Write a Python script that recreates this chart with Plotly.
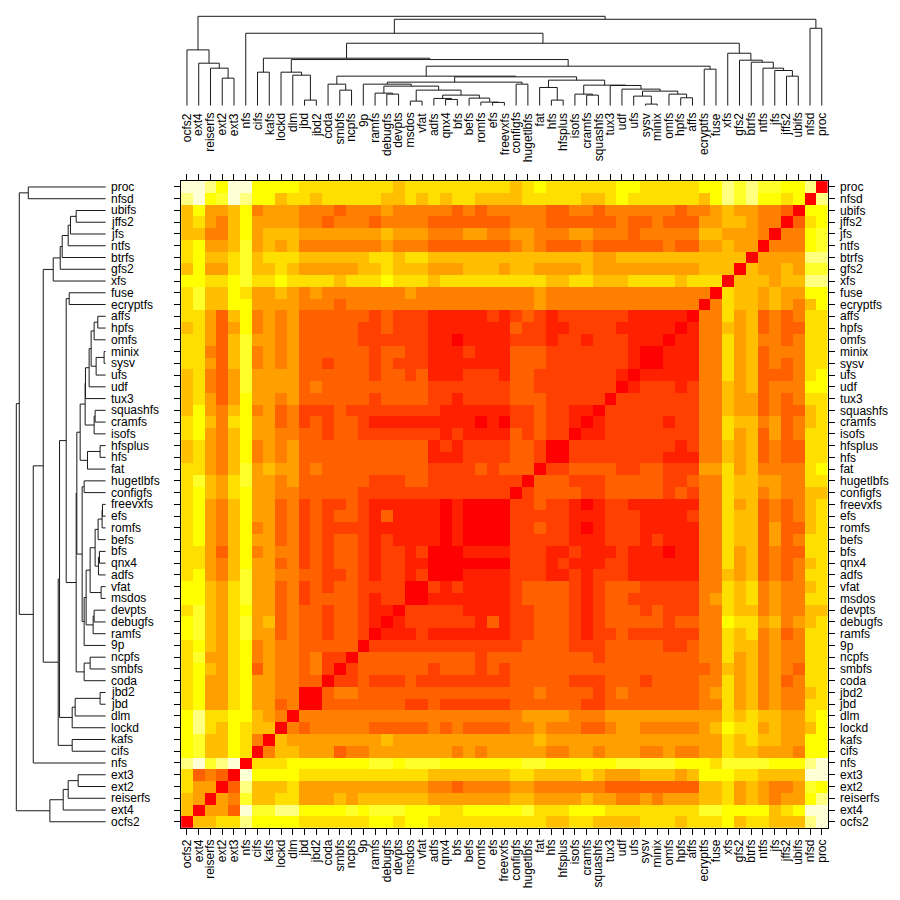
import plotly.graph_objects as go

# Filesystems, left to right along the bottom axis (bottom to top on the side axes)
labels = ["ocfs2","ext4","reiserfs","ext2","ext3","nfs","cifs","kafs","lockd","dlm","jbd","jbd2","coda",
          "smbfs","ncpfs","9p","ramfs","debugfs","devpts","msdos","vfat","adfs","qnx4","bfs","befs","romfs",
          "efs","freevxfs","configfs","hugetlbfs","fat","hfs","hfsplus","isofs","cramfs","squashfs","tux3",
          "udf","ufs","sysv","minix","omfs","hpfs","affs","ecryptfs","fuse","xfs","gfs2","btrfs","ntfs",
          "jfs","jffs2","ubifs","nfsd","proc"]

# Colour levels (0 = red ... 11 = palest), base-12 digits; lower-left triangle read row by row, proc at the top
level_rows = [
 "bba8bb8888 7777777767 7777777767 8777777887 777788a9a9 988a",
 "ab89ba8867 7677777667 6767766667 7777667877 777768a9a8 878",
 "6855684555 4443444544 4443434444 4334434444 4434456554 43",
 "6754685555 4434443444 4333333344 4333333433 4333556654 4",
 "6644685666 5555555655 5444554455 4445544434 4444665554",
 "7855695656 4444444544 4333333345 4333433333 343355655",
 "7866796777 6666667767 7666666666 6666655666 66666666",
 "6855796676 5555566766 6555666566 5555655555 5555666",
 "8877897787 7776777877 7677777777 7667766677 776777",
 "7966875565 4544444445 4444444444 5444444444 44444",
 "7966885555 4443444444 4444444444 5444444444 4444",
 "7753684545 3333332322 2111112123 2122222211 111",
 "6753584545 3333322322 2111111132 2112222111 11",
 "7753695545 3333322222 2110111122 2122122211 1",
 "7743694545 3333332332 2111211133 3222222210",
 "7753694545 3323332322 2111111133 322222221",
 "6743595555 3333332332 3111222133 22222221",
 "6743595555 3433333333 3222222233 2222222",
 "6753585545 3333332333 3221222233 322222",
 "6854684534 2223222222 2211111122 32211",
 "7864785534 2323321111 1111101022 3221",
 "7854685544 3323322222 2212111132 322",
 "6754684545 3333333333 3121222233 20",
 "6754684545 3333333333 3111222233 2",
 "7754695655 3433333333 3222232333",
 "7965795545 3333332223 322222222",
 "7865785544 3333322222 22222222",
 "7854685534 2322321111 1101000",
 "7854685534 2323321311 110100",
 "7854684534 2322221111 11010",
 "7854685534 2323321211 1101",
 "7753684544 2323321221 200",
 "7754685534 2323321221 10",
 "7854695544 3322321221 2",
 "8865795534 2323322220",
 "8865795534 233332122",
 "7965785534 33233211",
 "8965795634 3323321",
 "8965795534 332332",
 "7865784544 33333",
 "7955784544 3422",
 "7865783544 342",
 "7855785544 33",
 "7855785544 0",
 "7855785534",
 "8a7788654",
 "8a768766",
 "8966874",
 "896687",
 "ab9ab",
 "7343",
 "755",
 "65",
 "6",
 "",
]

palette = ["#FF0000","#FF2000","#FF4000","#FF6000","#FF8000","#FF9F00",
           "#FFBF00","#FFDF00","#FFFF00","#FFFF2A","#FFFF80","#FFFFD5"]

# Clustering: node name, left child, right child, merge height
merges = [
 ("n1","ext2","ext3",83),("n2","reiserfs","n1",113),("n3","ext4","n2",128),("n4","ocfs2","n3",168),
 ("n5","jbd","jbd2",17),("n6","dlm","n5",92),("n7","lockd","n6",101),("n8","cifs","kafs",101),
 ("n9","smbfs","ncpfs",47),("n10","coda","n9",65),("n11","debugfs","devpts",35),("n12","ramfs","n11",38),
 ("n13","msdos","vfat",14),("n14","qnx4","bfs",19),("n15","adfs","n14",22),("n16","efs","freevxfs",10),
 ("n17","romfs","n16",11),("n18","befs","n17",23),("n19","n15","n18",32),("n20","n13","n19",47),
 ("n21","n12","n20",59),("n22","9p","n21",65),("n23","configfs","hugetlbfs",65),("n24","n22","n23",71),
 ("n25","hfs","hfsplus",17),("n26","fat","n25",55),("n27","cramfs","squashfs",32),("n28","isofs","n27",35),
 ("n29","sysv","minix",5),("n30","ufs","n29",29),("n31","hpfs","affs",24),("n32","omfs","n31",35),
 ("n33","n30","n32",44),("n34","udf","n33",50),("n35","tux3","n34",61),("n36","n28","n35",62),
 ("n37","n26","n36",77),("n38","n24","n37",87),("n39","n10","n38",89),("n40","ecryptfs","fuse",110),
 ("n41","n39","n40",119),("n42","n7","n41",139),("n43","n8","n42",143),("n44","jffs2","ubifs",89),
 ("n45","jfs","n44",106),("n46","ntfs","n45",113),("n47","btrfs","n46",131),("n48","gfs2","n47",137),
 ("n49","xfs","n48",158),("n50","n43","n49",188),("n51","nfs","n50",218),("n52","nfsd","proc",233),
 ("n53","n51","n52",260),("n54","n4","n53",269),
]

n = len(labels)
levels = [[0] * n for _ in range(n)]
for r, row in enumerate(level_rows):
    digits = row.replace(" ", "")
    i = n - 1 - r
    assert len(digits) == i, (r, len(digits))
    for c, ch in enumerate(digits):
        levels[i][c] = levels[c][i] = int(ch, 12)

colorscale = []
for k, col in enumerate(palette):
    colorscale += [[k / 12, col], [(k + 1) / 12, col]]

# Dendrogram segments from the merge table
pos = {name: float(i) for i, name in enumerate(labels)}
hgt = {name: 0.0 for name in labels}
lead, height = [], []
for node, a, b, h in merges:
    pos[node] = (pos[a] + pos[b]) / 2
    hgt[node] = h
    lead += [pos[a], pos[a], pos[b], pos[b], None]
    height += [hgt[a], h, h, hgt[b], None]

W = 900.0
px = lambda v: v / W
py = lambda v: 1 - v / W
LEFT, RIGHT, TOP, BOTTOM = 180.5, 828.5, 180.5, 828.5
axis_range = [-0.5, n - 0.5]
font = dict(family="Liberation Sans, Arial, sans-serif", size=12, color="#000000")

fig = go.Figure()
fig.add_trace(go.Heatmap(z=levels, x=list(range(n)), y=list(range(n)), zmin=0, zmax=12,
                         colorscale=colorscale, showscale=False, hoverinfo="skip", xaxis="x", yaxis="y"))
line = dict(color="#1a1a1a", width=1)
fig.add_trace(go.Scatter(x=lead, y=height, mode="lines", line=line, xaxis="x2", yaxis="y2",
                         hoverinfo="skip", showlegend=False))
fig.add_trace(go.Scatter(x=height, y=lead, mode="lines", line=line, xaxis="x3", yaxis="y3",
                         hoverinfo="skip", showlegend=False))

annotations = []
for i, name in enumerate(labels):
    annotations.append(dict(x=px(110), xref="paper", y=i, yref="y", text=name, showarrow=False,
                            xanchor="left", yanchor="middle", font=font, borderpad=0, borderwidth=0))
    annotations.append(dict(x=i, xref="x", y=py(111), yref="paper", text=name, showarrow=False,
                            textangle=-90, xanchor="center", yanchor="top", font=font, borderpad=0))

hidden = dict(visible=False, showgrid=False, zeroline=False)
fig.update_layout(
    width=900, height=900, autosize=False, paper_bgcolor="white", plot_bgcolor="white",
    margin=dict(l=0, r=0, t=0, b=0), showlegend=False, annotations=annotations, font=font,
    xaxis=dict(domain=[px(LEFT), px(RIGHT)], range=axis_range, tickmode="array", tickvals=list(range(n)),
               ticktext=labels, tickangle=-90, ticks="outside", ticklen=6, tickwidth=1, tickcolor="#000000",
               showline=True, linecolor="#000000", linewidth=1, mirror="ticks", showgrid=False, zeroline=False,
               tickfont=font, anchor="y"),
    yaxis=dict(domain=[py(BOTTOM), py(TOP)], range=axis_range, side="right", tickmode="array",
               tickvals=list(range(n)), ticktext=labels, ticks="outside", ticklen=6, tickwidth=1,
               tickcolor="#000000", showline=True, linecolor="#000000", linewidth=1, mirror="ticks",
               showgrid=False, zeroline=False, tickfont=font, anchor="x", ticklabelstandoff=3),
    xaxis2=dict(domain=[px(LEFT), px(RIGHT)], range=axis_range, anchor="y2", **hidden),
    yaxis2=dict(domain=[py(105), py(5)], range=[0, 300], anchor="x2", **hidden),
    xaxis3=dict(domain=[px(5), px(105)], range=[300, 0], anchor="y3", **hidden),
    yaxis3=dict(domain=[py(BOTTOM), py(TOP)], range=axis_range, anchor="x3", **hidden),
)
fig.write_html("out.html", post_script="document.body.style.margin='0';",
               config={"displayModeBar": False})
